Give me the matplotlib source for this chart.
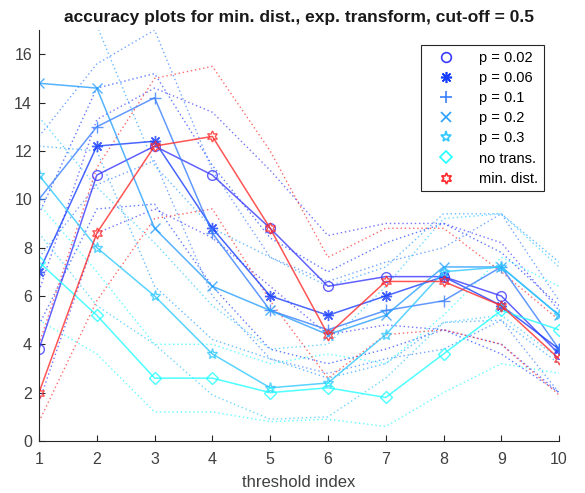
import matplotlib
matplotlib.use("Agg")
import matplotlib.pyplot as plt
from matplotlib.lines import Line2D

plt.rcParams['font.family'] = ['Liberation Sans', 'DejaVu Sans']

thresholds = [1, 2, 3, 4, 5, 6, 7, 8, 9, 10]

labels = ["p = 0.02", "p = 0.06", "p = 0.1", "p = 0.2", "p = 0.3",
          "no trans.", "min. dist."]

acc_p002 = [3.8, 11.0, 12.2, 11.0, 8.8, 6.4, 6.8, 6.8, 6.0, 3.6]
acc_p006 = [7.0, 12.2, 12.4, 8.8, 6.0, 5.2, 6.0, 6.8, 5.6, 3.8]
acc_p01 = [10.0, 13.0, 14.2, 8.6, 5.4, 4.6, 5.4, 5.8, 7.2, 3.8]
acc_p02 = [14.8, 14.6, 8.8, 6.4, 5.4, 4.4, 5.2, 7.2, 7.2, 5.2]
acc_p03 = [11.0, 8.0, 6.0, 3.6, 2.2, 2.4, 4.4, 7.0, 7.2, 5.2]
acc_notrans = [7.4, 5.2, 2.6, 2.6, 2.0, 2.2, 1.8, 3.6, 5.4, 4.6]
acc_mindist = [2.0, 8.6, 12.2, 12.6, 8.8, 4.4, 6.6, 6.6, 5.6, 3.4]

# upper / lower bounds drawn as dotted lines
hi_p002 = [6.2, 13.3, 14.6, 13.6, 11.2, 8.5, 9.0, 9.0, 8.2, 5.4]
lo_p002 = [1.6, 8.6, 9.6, 8.4, 6.4, 4.4, 4.8, 4.6, 4.0, 2.0]
hi_p006 = [9.4, 14.6, 15.2, 11.4, 8.4, 7.0, 8.2, 9.0, 7.8, 5.6]
lo_p006 = [4.8, 9.6, 9.8, 6.4, 3.8, 3.2, 3.8, 4.6, 3.6, 2.0]
hi_p01 = [12.6, 15.6, 17.0, 11.2, 7.6, 6.6, 7.4, 8.0, 9.4, 5.8]
lo_p01 = [7.6, 10.6, 11.6, 6.0, 3.4, 2.8, 3.4, 3.8, 5.0, 2.0]
hi_p02 = [17.4, 17.2, 11.4, 8.8, 7.6, 6.4, 7.2, 9.4, 9.4, 7.4]
lo_p02 = [12.2, 12.0, 6.4, 4.2, 3.4, 2.6, 3.2, 4.9, 5.0, 3.2]
hi_p03 = [13.4, 10.5, 8.2, 5.6, 3.8, 4.0, 6.4, 9.2, 9.4, 7.2]
lo_p03 = [8.6, 5.6, 4.0, 1.9, 0.9, 1.0, 2.6, 4.9, 5.2, 3.4]
hi_notrans = [9.8, 7.0, 4.0, 4.0, 3.2, 3.6, 3.2, 5.2, 7.6, 6.4]
lo_notrans = [5.0, 3.6, 1.2, 1.2, 0.8, 0.9, 0.6, 2.0, 3.2, 2.8]
hi_mindist = [4.0, 11.3, 15.0, 15.5, 12.0, 7.6, 8.8, 8.8, 7.0, 5.0]
lo_mindist = [0.8, 5.8, 9.2, 9.6, 5.8, 2.6, 4.4, 4.6, 4.0, 1.9]

means = [acc_p002, acc_p006, acc_p01, acc_p02, acc_p03, acc_notrans, acc_mindist]
uppers = [hi_p002, hi_p006, hi_p01, hi_p02, hi_p03, hi_notrans, hi_mindist]
lowers = [lo_p002, lo_p006, lo_p01, lo_p02, lo_p03, lo_notrans, lo_mindist]

colors = ["#3a3aff", "#1a40ff", "#3a80ff", "#2aa0ff", "#30c8ff", "#22ffff", "#ff2a2a"]
markers = ["o", (8, 2, 0), "+", "x", "*", "D", (6, 1, 0)]
msizes = [7, 8, 9, 7, 8, 6, 8]

fig = plt.figure(figsize=(5.85, 4.93), dpi=100)
ax = fig.add_axes([0.0667, 0.1055, 0.889, 0.8335])

for hi, lo, c in zip(uppers, lowers, colors):
    ax.plot(thresholds, hi, linestyle=(0, (1, 2.0)), color=c, lw=1.0, alpha=0.7)
    ax.plot(thresholds, lo, linestyle=(0, (1, 2.0)), color=c, lw=1.0, alpha=0.7)

for m, c, mk, ms in zip(means, colors, markers, msizes):
    ax.plot(thresholds, m, color=c, lw=1.1, alpha=0.8, marker=mk, ms=ms,
            mfc="none", mec=c, mew=1.0)

handles = [Line2D([], [], linestyle="none", marker=mk, ms=ms, mfc="none",
                  mec=c, mew=1.2, color=c)
           for c, mk, ms in zip(colors, markers, msizes)]
leg = ax.legend(handles, labels, loc="upper right", bbox_to_anchor=(0.971, 0.9635),
                fontsize=10.5, frameon=True, fancybox=False, framealpha=1,
                edgecolor="#262626", handletextpad=1.0, borderpad=0.4,
                borderaxespad=0.0, labelspacing=0.42, handlelength=2.6)
leg.get_frame().set_linewidth(0.8)

ax.set_xlim(1, 10)
ax.set_ylim(0, 17)
ax.set_xticks(thresholds)
ax.set_yticks([0, 2, 4, 6, 8, 10, 12, 14, 16])
ax.tick_params(direction="in", length=4, width=0.8, colors="#262626",
               labelsize=11.5, labelcolor="#404040")
ax.tick_params(axis="x", pad=8)
ax.tick_params(axis="y", pad=5)
for s in ["top", "right"]:
    ax.spines[s].set_visible(False)
for s in ["left", "bottom"]:
    ax.spines[s].set_color("#262626")
    ax.spines[s].set_linewidth(0.8)

ax.set_xlabel("threshold index", fontsize=12, color="#404040", labelpad=6)
ax.set_title("accuracy plots for min. dist., exp. transform, cut-off = 0.5",
             fontsize=12.5, fontweight="bold", pad=6, color="#1a1a1a")

fig.savefig("out.png", dpi=100)
